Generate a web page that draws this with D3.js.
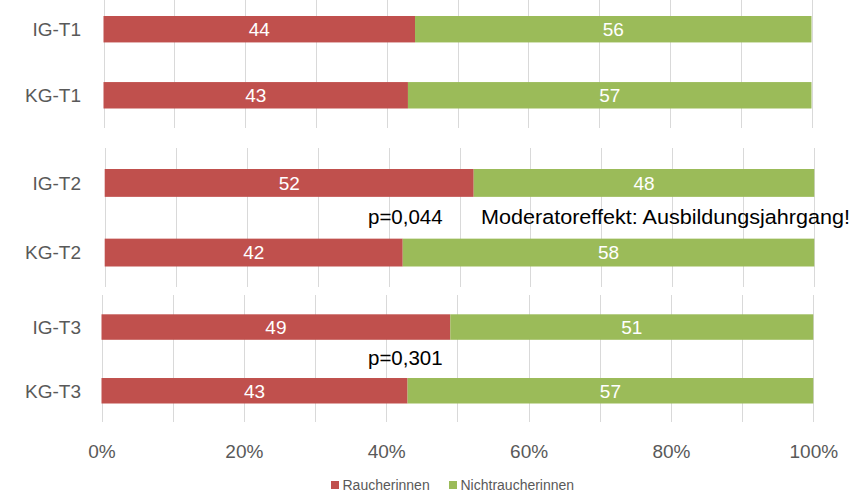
<!DOCTYPE html>
<html>
<head>
<meta charset="utf-8">
<script src="https://cdn.jsdelivr.net/npm/d3@7"></script>
<style>
  body { margin: 0; background: #fff; }
  svg { display: block; font-family: "Liberation Sans", Arial, sans-serif; }
</style>
</head>
<body>
<svg id="chart" width="854" height="493"></svg>
<script>
// data
const groups = ["IG-T1", "KG-T1", "IG-T2", "KG-T2", "IG-T3", "KG-T3"];
const raucher = [44, 43, 52, 42, 49, 43];
const nichtraucher = [56, 57, 48, 58, 51, 57];
const seriesNames = ["Raucherinnen", "Nichtraucherinnen"];
const tickValues = [0, 20, 40, 60, 80, 100];
const pLabels = [null, "p=0,044", "p=0,301"];
const note = "Moderatoreffekt: Ausbildungsjahrgang!";

const colors = ["#C0504D", "#9BBB59"];

// three pasted excel charts, each slightly offset
const panels = [
    {x: [103.5, 811.5], grid: [0, 128], bars: [16, 108.5]},
    {x: [104.7, 814.3], grid: [148, 287], bars: [169, 266.5]},
    {x: [101.5, 813.3], grid: [295, 422], bars: [314.3, 403.5]}
];

const svg = d3.select("#chart");

panels.forEach((p, i) => {
    const cats = groups.slice(i * 2, i * 2 + 2);
    const rows = cats.map((g, j) => ({
        group: g,
        r: raucher[i * 2 + j],
        n: nichtraucher[i * 2 + j]
    }));

    const x = d3.scaleLinear().domain([0, 100]).range(p.x);
    const y = d3.scaleBand().domain(cats).range(p.bars).paddingInner(0.6).paddingOuter(0);

    const g = svg.append("g");

    g.append("g")
        .selectAll("line")
        .data(d3.range(0, 101, 10))
        .join("line")
        .attr("x1", d => Math.round(x(d)) + 0.5)
        .attr("x2", d => Math.round(x(d)) + 0.5)
        .attr("y1", p.grid[0])
        .attr("y2", p.grid[1])
        .attr("stroke", "#D9D9D9")
        .attr("stroke-width", 1);

    const stack = d3.stack().keys(["r", "n"])(rows);

    stack.forEach((layer, k) => {
        g.append("g")
            .selectAll("rect")
            .data(layer)
            .join("rect")
            .attr("x", d => x(d[0]))
            .attr("y", d => y(d.data.group))
            .attr("width", d => x(d[1]) - x(d[0]))
            .attr("height", y.bandwidth())
            .attr("fill", colors[k]);

        g.append("g")
            .selectAll("text")
            .data(layer)
            .join("text")
            .attr("x", d => (x(d[0]) + x(d[1])) / 2)
            .attr("y", d => y(d.data.group) + y.bandwidth() / 2)
            .attr("dy", "0.36em")
            .attr("text-anchor", "middle")
            .attr("fill", "#fff")
            .style("font-size", "19px")
            .text(d => d[1] - d[0]);
    });

    g.append("g")
        .selectAll("text")
        .data(cats)
        .join("text")
        .attr("x", 81)
        .attr("y", d => y(d) + y.bandwidth() / 2)
        .attr("dy", "0.36em")
        .attr("text-anchor", "end")
        .attr("fill", "#595959")
        .style("font-size", "19px")
        .text(d => d);

    if (pLabels[i]) {
        const gapMid = (y(cats[0]) + y.bandwidth() + y(cats[1])) / 2;
        g.append("text")
            .attr("x", 368)
            .attr("y", gapMid + 6.5)
            .attr("fill", "#000")
            .style("font-size", "20.5px")
            .text(pLabels[i]);
        if (i === 1) {
            g.append("text")
                .attr("x", 481)
                .attr("y", gapMid + 6.5)
                .attr("fill", "#000")
                .style("font-size", "20.5px")
                .attr("textLength", 369)
                .attr("lengthAdjust", "spacingAndGlyphs")
                .text(note);
        }
    }

    // axis only under the last chart
    if (i === 2) {
        const axis = d3.axisBottom(x)
            .tickValues(tickValues)
            .tickFormat(d => d + "%")
            .tickSize(0)
            .tickPadding(0);
        const ag = svg.append("g")
            .attr("transform", "translate(0,444)")
            .call(axis);
        ag.select(".domain").remove();
        ag.selectAll("text")
            .attr("fill", "#595959")
            .style("font-size", "19px")
            .style("font-family", "Liberation Sans, Arial, sans-serif");
    }
});

// legend
const legend = svg.append("g").attr("transform", "translate(331,485)");
const legendX = [0, 118];
seriesNames.forEach((name, k) => {
    const lg = legend.append("g").attr("transform", `translate(${legendX[k]},0)`);
    lg.append("rect")
        .attr("x", 0).attr("y", -4)
        .attr("width", 8).attr("height", 8)
        .attr("fill", colors[k]);
    lg.append("text")
        .attr("x", 11.5)
        .attr("dy", "0.35em")
        .attr("fill", "#595959")
        .style("font-size", "14px")
        .text(name);
});
</script>
</body>
</html>
